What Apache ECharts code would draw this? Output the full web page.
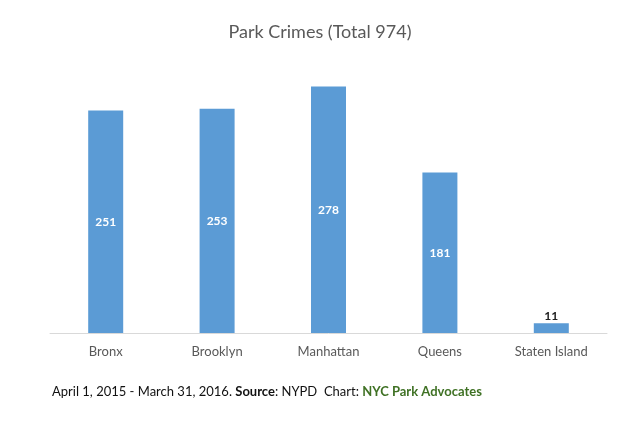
<!DOCTYPE html>
<html>
<head>
<meta charset="utf-8">
<script src="https://cdn.jsdelivr.net/npm/echarts@6/dist/echarts.min.js"></script>
<style>
html,body{margin:0;padding:0;background:#fff;}
#chart{width:640px;height:423px;}
</style>
</head>
<body>
<div id="chart"></div>
<script>
// 数据
var boroughs = ['Bronx', 'Brooklyn', 'Manhattan', 'Queens', 'Staten Island'];
var crimes = [251, 253, 278, 181, 11];
var titleText = 'Park Crimes (Total 974)';

var font = 'Lato, "Open Sans", sans-serif';

// 小数值放在柱子上方
var barData = crimes.map(function (v) {
	if (v < 30) {
		return { value: v, label: { position: 'top', color: '#222', distance: 1 } };
	}
	return v;
});

var chart = echarts.init(document.getElementById('chart'));
var option = {
	backgroundColor: '#fff',
	animation: false,
	title: {
		text: titleText,
		left: 'center',
		top: 18,
		textStyle: { fontFamily: font, fontSize: 18, fontWeight: 'normal', color: '#595959' }
	},
	grid: { left: 50, right: 33, top: 67, bottom: 90 },
	xAxis: {
		type: 'category',
		data: boroughs,
		axisLine: { lineStyle: { color: '#d9d9d9', width: 1 } },
		axisTick: { show: false },
		axisLabel: { fontFamily: font, fontSize: 13, color: '#595959', margin: 12 }
	},
	yAxis: {
		type: 'value',
		min: 0,
		max: 300,
		interval: 50,
		show: false
	},
	series: [{
		type: 'bar',
		data: barData,
		barWidth: 35,
		itemStyle: { color: '#5b9bd5' },
		label: {
			show: true,
			position: 'inside',
			fontFamily: font,
			fontSize: 12,
			fontWeight: 'bold',
			color: '#fff'
		}
	}],
	graphic: [{
		type: 'text',
		left: 52,
		top: 385,
		style: {
			text: '{n|April 1, 2015 - March 31, 2016. }{b|Source}{n|: NYPD  Chart: }{g|NYC Park Advocates}',
			rich: {
				n: { fontFamily: font, fontSize: 13, fill: '#111' },
				b: { fontFamily: font, fontSize: 13, fill: '#111', fontWeight: 'bold' },
				g: { fontFamily: font, fontSize: 13, fill: '#3f7124', fontWeight: 'bold' }
			}
		}
	}]
};
chart.setOption(option);
</script>
</body>
</html>
